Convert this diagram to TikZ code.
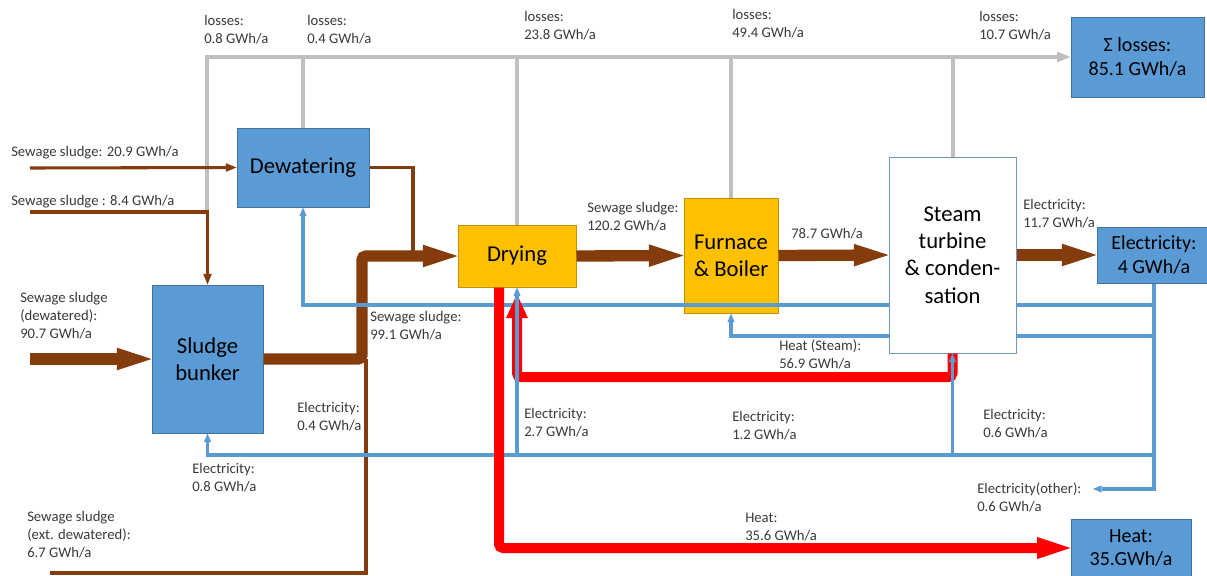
\documentclass[tikz,border=0pt]{standalone}
\usepackage{fontspec}
\setmainfont{Carlito}
\usetikzlibrary{arrows.meta,calc}
\definecolor{cproc}{HTML}{5B9BD5}
\definecolor{procedge}{HTML}{41719C}
\definecolor{chot}{HTML}{FFC000}
\definecolor{hotedge}{HTML}{BF9000}
\definecolor{turbedge}{HTML}{6F95C6}
\definecolor{csludge}{HTML}{843C0C}
\definecolor{cheat}{HTML}{FF0000}
\definecolor{celec}{HTML}{5B9BD5}
\definecolor{closs}{HTML}{BFBFBF}
\definecolor{ink3}{HTML}{3A3A3A}
\newcommand{\boxfont}{\fontsize{17}{20.5}\selectfont}
\newcommand{\sinkfont}{\fontsize{15}{17.3}\selectfont}
\newcommand{\lblfont}{\fontsize{11}{13.5}\selectfont}
\tikzset{
  proc/.style={draw=procedge, line width=0.75pt, fill=cproc, align=center,
               font=\boxfont, text=black, inner sep=2pt},
  unit/.style={proc, draw=hotedge, fill=chot},
  turb/.style={proc, draw=turbedge, fill=white},
  sink/.style={proc, font=\sinkfont},
  lbl/.style={font=\lblfont, text=ink3, align=left, anchor=west, inner sep=0pt},
  % ---- flows ----
  lossline/.style={draw=closs, line width=3pt},
  lossin/.style={lossline, -{Triangle[length=10pt,width=8pt,line width=0pt]}},
  thinflow/.style={draw=csludge, line width=2.3pt},
  thinin/.style={thinflow, -{Triangle[length=8pt,width=6.5pt,line width=0pt]}},
  bigflow/.style={draw=csludge, line width=8.5pt, rounded corners=3pt,
                  -{Triangle[length=26pt,width=17pt,line width=0pt]}},
  elecline/.style={draw=celec, line width=2.3pt},
  elecin/.style={elecline, -{Triangle[length=6.5pt,width=5.5pt,line width=0pt]}},
  heatflow/.style={draw=cheat, line width=7.5pt, rounded corners=3pt,
                   -{Triangle[length=18pt,width=16.5pt,line width=0pt]}},
}

\begin{document}
\begin{tikzpicture}[x=0.75pt, y=-0.75pt]
\path[use as bounding box, fill=white] (0,0) rectangle (1207,575);
% process blocks
\node[proc, minimum width=99pt, minimum height=59.25pt] (dewat) at (303,167.5) {Dewatering};
\node[proc, minimum width=83.25pt, minimum height=111pt] (bunker) at (207.5,359) {Sludge\\bunker};
\node[unit, minimum width=88.5pt, minimum height=46.5pt] (drying) at (517,256) {Drying};
\node[unit, minimum width=70.5pt, minimum height=86.25pt] (furnace) at (731,255.5) {Furnace\\\& Boiler};
\node[turb, minimum width=95.25pt, minimum height=147pt] (steam) at (952.5,255) {Steam\\turbine\\\& conden-\\sation};
% results
\node[sink, minimum width=99.75pt, minimum height=60pt] (sumloss) at (1137.5,57) {Σ losses:\\85.1 GWh/a};
\node[sink, minimum width=85.5pt, minimum height=42pt] (elec) at (1154,255) {Electricity:\\4 GWh/a};
\node[sink, minimum width=90pt, minimum height=43.5pt] (heat) at (1131,548) {Heat:\\35.GWh/a};
% free ends and junctions
\coordinate (s1) at (30,168);
\coordinate (s2) at (30,212);
\coordinate (s3) at (30,359);
\coordinate (s4) at (50,573);
\coordinate (c84) at (207,212);
\coordinate (j1) at (413,257);
\coordinate (j2) at (362,300);
\coordinate (j3) at (366,359);
\coordinate (b1) at (1154,305);
\coordinate (b2) at (1154,336);
\coordinate (b3) at (1154,455);
\coordinate (eo) at (1093,489);
\coordinate (hs) at (952.5,377);
% losses
\draw[lossin] (c84) |- (sumloss.west);
\foreach \b in {dewat,drying,furnace,steam}{ \draw[lossline] (\b.north) -- (\b.north |- sumloss.west); }
% sewage sludge
\draw[thinin] (s1) -- (dewat.west);
\draw[thinin] (s2) -| (bunker.north);
\draw[thinflow] (dewat.east) -| (j1);
\draw[thinflow] (s4) -| (j3);
\draw[bigflow] (s3) -- (bunker.west);
\draw[bigflow] (bunker.east) -| (j2) |- (drying.west);
\draw[bigflow] (drying.east) -- (furnace.west);
\draw[bigflow] (furnace.east) -- (steam.west);
\draw[bigflow] (steam.east) -- (elec.west);
% electricity (horizontal)
\draw[elecline] (b1) -- (b1 -| steam.east);
\draw[elecin] (b1 -| steam.west) -| (dewat.south);
\draw[elecline] (b2) -- (b2 -| steam.east);
\draw[elecin] (b2 -| steam.west) -| (furnace.south);
\draw[elecin] (b3) -| (bunker.south);
\draw[elecin] (elec.south) |- (eo);
% heat
\draw[heatflow, shorten >=5pt] (steam.south) -- (hs) -| (drying.south);
\draw[heatflow, -{Triangle[length=25pt,width=16.5pt,line width=0pt]}] ([xshift=-13.5pt]drying.south) |- (heat.west);
% electricity (vertical)
\draw[elecin] (b3 -| drying.south) -- (drying.south);
\draw[elecin] (b3 -| steam.south) -- (steam.south);
% labels
\node[lbl] (l1) at (204,30) {losses:\\0.8 GWh/a};
\node[lbl] (l2) at (307,30) {losses:\\0.4 GWh/a};
\node[lbl] (l3) at (524,26) {losses:\\23.8 GWh/a};
\node[lbl] (l4) at (732,24) {losses:\\49.4 GWh/a};
\node[lbl] (l5) at (979,26) {losses:\\10.7 GWh/a};
\node[lbl] (f1) at (11,153) {Sewage sludge: 20.9 GWh/a};
\node[lbl] (f2) at (11,202) {Sewage sludge : 8.4 GWh/a};
\node[lbl] (f3) at (20,316) {Sewage sludge\\(dewatered):\\90.7 GWh/a};
\node[lbl] (f4) at (27,535) {Sewage sludge\\(ext. dewatered):\\6.7 GWh/a};
\node[lbl] (f5) at (370,326) {Sewage sludge:\\99.1 GWh/a};
\node[lbl] (f6) at (587,217) {Sewage sludge:\\120.2 GWh/a};
\node[lbl] (f7) at (791,234) {78.7 GWh/a};
\node[lbl] (e1) at (1023,214) {Electricity:\\11.7 GWh/a};
\node[lbl] (e2) at (297,417) {Electricity:\\0.4 GWh/a};
\node[lbl] (e3) at (192,478) {Electricity:\\0.8 GWh/a};
\node[lbl] (e4) at (524,423) {Electricity:\\2.7 GWh/a};
\node[lbl] (e5) at (732,426) {Electricity:\\1.2 GWh/a};
\node[lbl] (e6) at (983,424) {Electricity:\\0.6 GWh/a};
\node[lbl] (e7) at (977,497) {Electricity(other):\\0.6 GWh/a};
\node[lbl] (h1) at (779,354) {Heat (Steam):\\56.9 GWh/a};
\node[lbl] (h2) at (745,527) {Heat:\\35.6 GWh/a};
\end{tikzpicture}
\end{document}
